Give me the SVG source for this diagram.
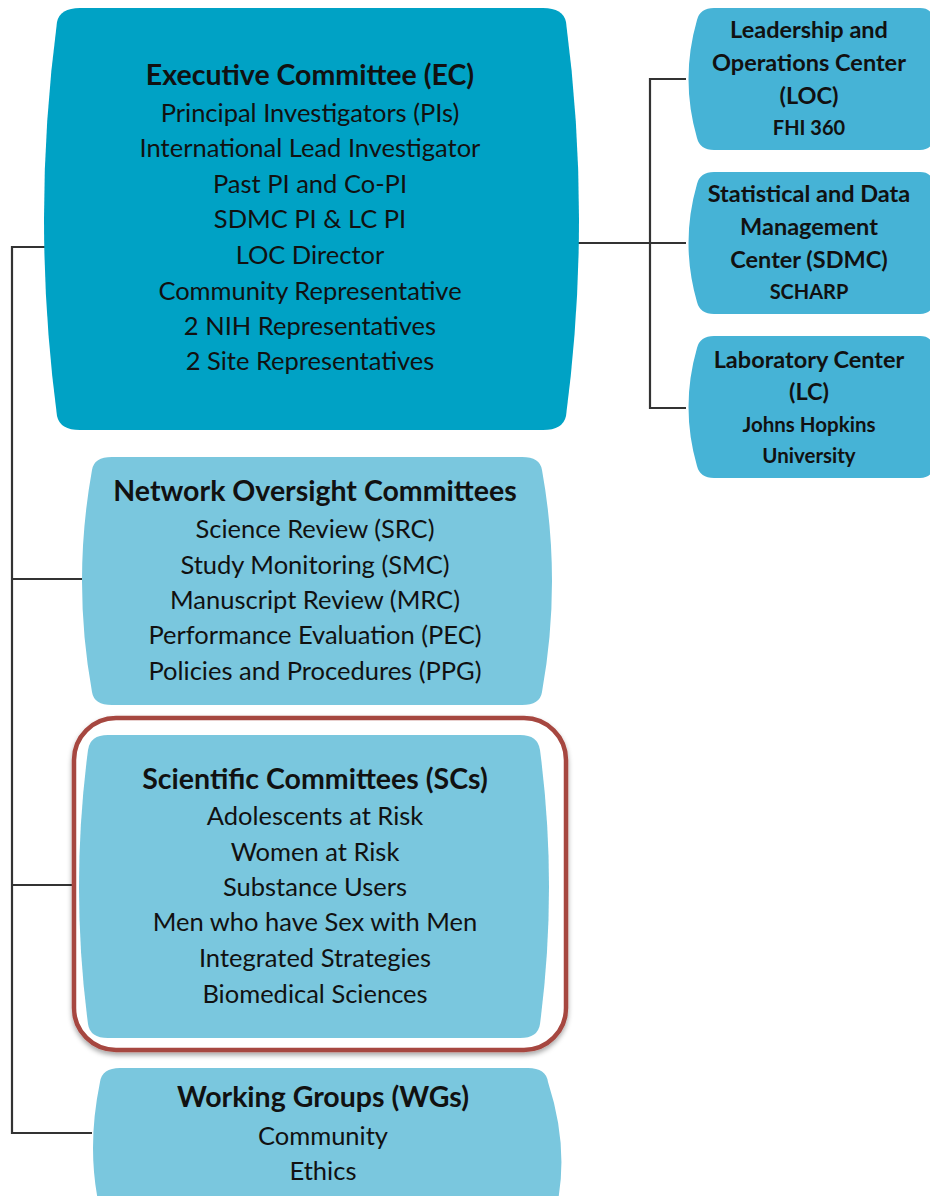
<svg xmlns="http://www.w3.org/2000/svg" width="930" height="1196" viewBox="0 0 930 1196">
<defs>
<style>
.t{font-family:Lato,"Open Sans","Liberation Sans",sans-serif;fill:#111;text-anchor:middle}
.b{font-weight:bold}
.c{fill:none;stroke:#333;stroke-width:2.2}
.ec{fill:#00A2C5}
.rt{fill:#46B3D6}
.lt{fill:#7AC7DE}
</style>
<filter id="sh" x="-10%" y="-10%" width="120%" height="120%">
<feDropShadow dx="0" dy="3" stdDeviation="2.5" flood-color="#000" flood-opacity="0.35"/>
</filter>
</defs>
<rect width="930" height="1196" fill="#fff"/>
<g id="connectors">
<path class="c" d="M45 247 H12 V1133 H92"/>
<path class="c" d="M12 579 H82"/>
<path class="c" d="M12 885 H76"/>
<path class="c" d="M578 243 H686"/>
<path class="c" d="M686 79 H650 V408 H686"/>
</g>
<g id="ec">
<path class="ec" d="M80 8 H543 Q563 8 566 22 Q592 219 566 416 Q563 430 543 430 H80 Q60 430 57 416 Q31 219 57 22 Q60 8 80 8 Z"/>
<g class="t" font-size="25.5">
<text x="310" y="85" class="b" font-size="28.5">Executive Committee (EC)</text>
<text x="310" y="122">Principal Investigators (PIs)</text>
<text x="310" y="157">International Lead Investigator</text>
<text x="310" y="193">Past PI and Co-PI</text>
<text x="310" y="228">SDMC PI &amp; LC PI</text>
<text x="310" y="264">LOC Director</text>
<text x="310" y="300">Community Representative</text>
<text x="310" y="335">2 NIH Representatives</text>
<text x="310" y="370">2 Site Representatives</text>
</g>
</g>
<g id="loc">
<path class="rt" d="M714 8 H920 Q932 8 934 20 L934 138 Q932 150 920 150 H714 Q700 150 697 138 Q680 79 697 20 Q700 8 714 8 Z"/>
<g class="t b" font-size="23.5">
<text x="809" y="38">Leadership and</text>
<text x="809" y="71">Operations Center</text>
<text x="809" y="104">(LOC)</text>
<text x="809" y="135" font-size="20">FHI 360</text>
</g>
</g>
<g id="sdmc">
<path class="rt" d="M714 172 H920 Q932 172 934 184 L934 302 Q932 314 920 314 H714 Q700 314 697 302 Q680 243 697 184 Q700 172 714 172 Z"/>
<g class="t b" font-size="23.5">
<text x="809" y="202">Statistical and Data</text>
<text x="809" y="235">Management</text>
<text x="809" y="268">Center (SDMC)</text>
<text x="809" y="299" font-size="20">SCHARP</text>
</g>
</g>
<g id="lc">
<path class="rt" d="M714 336 H920 Q932 336 934 348 L934 466 Q932 478 920 478 H714 Q700 478 697 466 Q680 407 697 348 Q700 336 714 336 Z"/>
<g class="t b" font-size="23.5">
<text x="809" y="368">Laboratory Center</text>
<text x="809" y="400">(LC)</text>
<text x="809" y="432" font-size="20.5">Johns Hopkins</text>
<text x="809" y="463" font-size="20.5">University</text>
</g>
</g>
<g id="noc">
<path class="lt" d="M112 457 H522 Q540 457 542 470 Q562 581 542 692 Q540 705 522 705 H112 Q94 705 92 692 Q72 581 92 470 Q94 457 112 457 Z"/>
<g class="t" font-size="25.5">
<text x="315" y="501" class="b" font-size="28.5">Network Oversight Committees</text>
<text x="315" y="538">Science Review (SRC)</text>
<text x="315" y="574">Study Monitoring (SMC)</text>
<text x="315" y="609">Manuscript Review (MRC)</text>
<text x="315" y="644">Performance Evaluation (PEC)</text>
<text x="315" y="680">Policies and Procedures (PPG)</text>
</g>
</g>
<g id="sc">
<rect x="74" y="718" width="492" height="332" rx="42" fill="#fff" stroke="#A6463F" stroke-width="4.5" filter="url(#sh)"/>
<path class="lt" d="M108 735 H520 Q538 735 540 750 Q558 887 540 1024 Q538 1038 520 1038 H108 Q90 1038 88 1024 Q70 887 88 750 Q90 735 108 735 Z"/>
<g class="t" font-size="25.5">
<text x="315" y="789" class="b" font-size="28.5">Scientific Committees (SCs)</text>
<text x="315" y="825">Adolescents at Risk</text>
<text x="315" y="861">Women at Risk</text>
<text x="315" y="896">Substance Users</text>
<text x="315" y="931">Men who have Sex with Men</text>
<text x="315" y="967">Integrated Strategies</text>
<text x="315" y="1003">Biomedical Sciences</text>
</g>
</g>
<g id="wg">
<path class="lt" d="M120 1068 H528 Q546 1068 548 1082 Q570 1150 556 1210 H100 Q86 1150 100 1082 Q102 1068 120 1068 Z"/>
<g class="t" font-size="25.5">
<text x="323" y="1107" class="b" font-size="28.5">Working Groups (WGs)</text>
<text x="323" y="1145">Community</text>
<text x="323" y="1180">Ethics</text>
</g>
</g>
</svg>
